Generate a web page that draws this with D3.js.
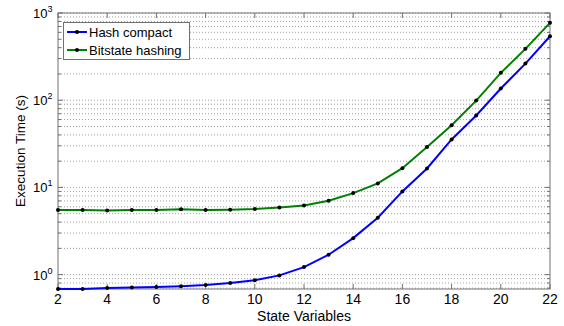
<!DOCTYPE html>
<html>
<head>
  <meta charset="UTF-8">
  <style>
    body { margin: 0; background: #fff; }
    svg { font-family: "Liberation Sans", Arial, sans-serif; }
  </style>
</head>
<body>
<svg></svg>
<script src="https://d3js.org/d3.v7.min.js"></script>
<script>

let width = 564, height = 326;

// data
const stateVars = [2, 3, 4, 5, 6, 7, 8, 9, 10, 11, 12, 13, 14, 15, 16, 17, 18, 19, 20, 21, 22];
const hashCompact = [0.684, 0.684, 0.70, 0.71, 0.72, 0.735, 0.76, 0.80, 0.86, 0.98, 1.22, 1.69, 2.62, 4.5, 9.0, 16.5, 35.5, 66.8, 136, 263, 541];
const bitstate = [5.5, 5.5, 5.45, 5.5, 5.5, 5.6, 5.5, 5.55, 5.65, 5.9, 6.22, 7.04, 8.6, 11.1, 16.6, 29, 51.7, 99, 206, 388, 771];
const xTicks = [2, 4, 6, 8, 10, 12, 14, 16, 18, 20, 22];
const yDecades = [0, 1, 2, 3];

const series = [
  { name: "Hash compact", values: hashCompact, color: "#0000ff" },
  { name: "Bitstate hashing", values: bitstate, color: "#008000" }
];

let svg = d3.select("svg")
    .attr("width", width)
    .attr("height", height);

const plot = { left: 58, right: 550, top: 13, bottom: 289 };

let x = d3.scaleLinear().domain([2, 22]).range([plot.left, plot.right]);
let y = d3.scaleLog().domain([0.684, 1000]).range([plot.bottom, plot.top]);

// minor + major grid (dotted)
let gridVals = [];
for (let d = -1; d <= 2; d++) {
  for (let m = 1; m <= 9; m++) {
    let v = m * Math.pow(10, d);
    if (v >= 0.684 && v <= 1000) gridVals.push(v);
  }
}
gridVals.push(1000);

svg.append("g")
  .selectAll("line")
  .data(gridVals)
  .enter()
  .append("line")
  .attr("x1", plot.left)
  .attr("x2", plot.right)
  .attr("y1", d => y(d))
  .attr("y2", d => y(d))
  .attr("stroke", "#a0a0a0")
  .attr("stroke-width", 1)
  .attr("stroke-dasharray", "1,2");

// box
svg.append("rect")
  .attr("x", plot.left)
  .attr("y", plot.top)
  .attr("width", plot.right - plot.left)
  .attr("height", plot.bottom - plot.top)
  .attr("fill", "none")
  .attr("stroke", "#707070")
  .attr("stroke-width", 1);

// x ticks (bottom and top, pointing inward)
let xt = svg.append("g");
xTicks.forEach(t => {
  xt.append("line").attr("x1", x(t)).attr("x2", x(t))
    .attr("y1", plot.bottom).attr("y2", plot.bottom - 5).attr("stroke", "#707070");
  xt.append("line").attr("x1", x(t)).attr("x2", x(t))
    .attr("y1", plot.top).attr("y2", plot.top + 5).attr("stroke", "#707070");
  xt.append("text")
    .attr("x", x(t))
    .attr("y", 304)
    .attr("text-anchor", "middle")
    .attr("font-size", 14)
    .text(t);
});

// y ticks
let yt = svg.append("g");
gridVals.forEach(v => {
  let major = Math.abs(Math.log10(v) - Math.round(Math.log10(v))) < 1e-9;
  let len = major ? 5 : 3;
  yt.append("line").attr("x1", plot.left).attr("x2", plot.left + len)
    .attr("y1", y(v)).attr("y2", y(v)).attr("stroke", "#707070");
  yt.append("line").attr("x1", plot.right).attr("x2", plot.right - len)
    .attr("y1", y(v)).attr("y2", y(v)).attr("stroke", "#707070");
});
yDecades.forEach(d => {
  let tx = yt.append("text")
    .attr("x", 33)
    .attr("y", y(Math.pow(10, d)) + 5)
    .attr("font-size", 13);
  tx.append("tspan").text("10");
  tx.append("tspan").attr("dy", -6).attr("font-size", 9).text(d);
});

// axis labels
svg.append("text")
  .attr("x", x(12))
  .attr("y", 321)
  .attr("text-anchor", "middle")
  .attr("font-size", 14)
  .text("State Variables");

svg.append("text")
  .attr("transform", "translate(25," + ((plot.top + plot.bottom) / 2) + ") rotate(-90)")
  .attr("text-anchor", "middle")
  .attr("font-size", 13.5)
  .text("Execution Time (s)");

// lines
let line = d3.line()
  .x((d, i) => x(stateVars[i]))
  .y(d => y(d));

series.forEach(s => {
  svg.append("path")
    .datum(s.values)
    .attr("d", line)
    .attr("fill", "none")
    .attr("stroke", s.color)
    .attr("stroke-width", 2);
  svg.append("g")
    .selectAll("circle")
    .data(s.values)
    .enter()
    .append("circle")
    .attr("cx", (d, i) => x(stateVars[i]))
    .attr("cy", d => y(d))
    .attr("r", 2)
    .attr("fill", "#000");
});

// legend
let legend = svg.append("g");
legend.append("rect")
  .attr("x", 63.5).attr("y", 22.5)
  .attr("width", 126).attr("height", 37)
  .attr("fill", "#fff")
  .attr("stroke", "#707070");

series.forEach((s, i) => {
  let ly = 32 + i * 18;
  legend.append("line")
    .attr("x1", 67).attr("x2", 87)
    .attr("y1", ly).attr("y2", ly)
    .attr("stroke", s.color).attr("stroke-width", 2);
  legend.append("circle").attr("cx", 77).attr("cy", ly).attr("r", 2).attr("fill", "#000");
  legend.append("text")
    .attr("x", 89).attr("y", ly + 5)
    .attr("font-size", 13)
    .text(s.name);
});

</script>
</body>
</html>
